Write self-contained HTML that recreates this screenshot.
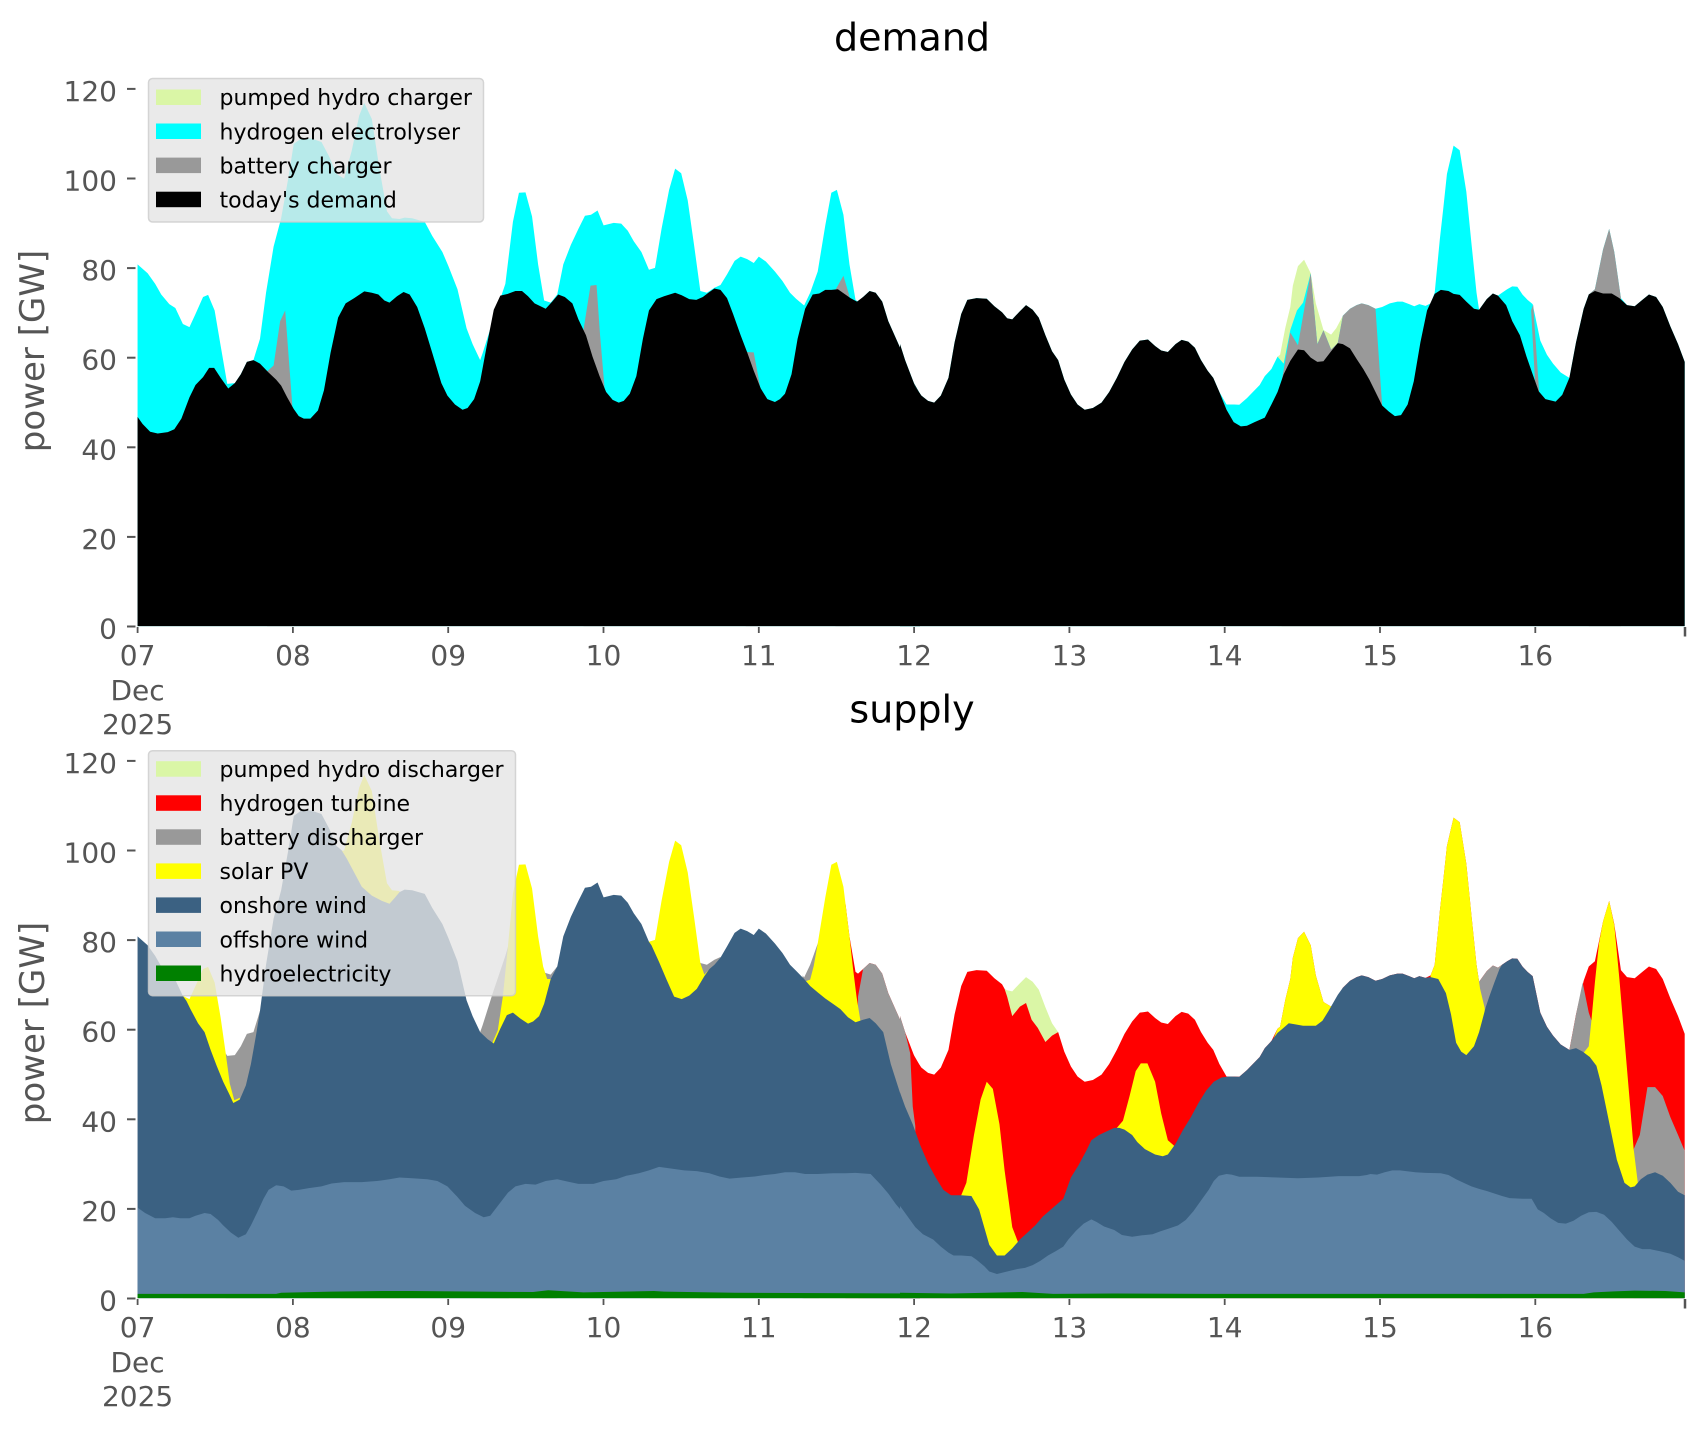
<!DOCTYPE html>
<html>
<head>
<meta charset="utf-8">
<style>
html,body{margin:0;padding:0;background:#fff;}
svg{display:block;}
text{font-family:"DejaVu Sans","Liberation Sans",sans-serif;}
</style>
</head>
<body>
<svg width="1706" height="1431" viewBox="0 0 1706 1431" xmlns="http://www.w3.org/2000/svg">
<rect width="1706" height="1431" fill="#fff"/>

<!-- ================= TOP: demand ================= -->
<g transform="translate(130,80) scale(0.50383,0.35459)">
 <polygon fill="#00ffff" points="15,1540 15,520 35,545 50,575 62,605 78,632 90,643 105,688 118,697 130,660 145,612 155,606 168,650 180,750 193,857 208,855 220,830 232,795 245,790 258,730 270,600 285,470 300,390 315,270 325,180 340,165 360,165 380,175 395,215 410,265 425,278 440,200 455,100 465,65 480,110 495,250 510,370 520,390 535,392 545,388 560,390 585,400 600,440 620,485 632,525 650,590 668,700 680,745 695,790 700,770 720,680 745,575 760,400 772,318 785,317 798,385 810,520 822,622 835,628 848,605 860,520 875,465 890,420 903,383 915,380 928,368 940,410 960,403 975,405 988,425 1000,455 1015,485 1030,535 1042,530 1055,420 1070,310 1082,250 1094,263 1107,340 1120,470 1132,595 1145,600 1160,586 1172,578 1185,548 1200,510 1212,498 1225,505 1238,516 1248,498 1262,512 1280,540 1295,567 1310,600 1322,617 1338,636 1350,600 1365,540 1380,410 1392,318 1403,310 1416,380 1428,520 1440,620 1445,625 1455,612 1468,595 1480,600 1493,625 1505,680 1530,760 1545,830 1558,860 1568,885 1568,1540"/>
 <polygon fill="#999999" points="272,822 285,805 298,680 308,650 322,915 322,1540 272,1540"/>
 <polygon fill="#999999" points="900,705 914,580 926,578 933,720 942,870 942,1540 900,1540"/>
 <polygon fill="#999999" points="1222,767 1238,768 1250,860 1250,1540 1222,1540"/>
 <polygon fill="#999999" points="1400,592 1416,552 1428,610 1428,1540 1400,1540"/>
 <polygon fill="#000000" points="15,1540 15,950 25,970 40,992 55,997 75,993 88,985 102,955 118,895 130,860 145,838 157,812 167,812 180,840 195,870 208,855 220,830 232,795 245,790 258,800 275,825 290,845 300,862 312,895 325,928 335,948 345,955 358,955 373,932 385,875 398,770 413,670 428,630 445,615 465,596 480,600 493,605 505,622 515,628 530,610 543,598 555,605 570,640 585,700 600,770 618,855 630,890 645,915 660,930 670,925 683,900 695,850 708,750 722,648 735,608 750,603 765,595 778,595 790,610 803,630 825,645 838,625 850,605 863,612 878,630 890,675 905,720 918,780 932,835 945,880 958,902 970,910 980,905 992,885 1005,835 1018,730 1030,650 1045,618 1060,610 1082,600 1095,607 1110,618 1124,620 1137,612 1148,600 1160,588 1172,592 1185,615 1197,660 1212,720 1225,768 1238,820 1252,870 1265,900 1280,908 1290,900 1300,885 1313,830 1325,730 1340,645 1355,605 1368,602 1380,592 1392,592 1405,590 1418,603 1430,615 1443,625 1455,612 1468,595 1480,600 1493,625 1505,680 1530,760 1545,830 1558,860 1568,885 1568,1540"/>
</g>
<g transform="translate(900,80) scale(0.5102,0.35459)">
 <polygon fill="#daf6a6" points="740,780 745,775 755,700 765,640 770,580 780,525 792,507 805,545 815,630 830,705 845,718 855,700 868,665 868,1540 740,1540"/>
 <polygon fill="#00ffff" points="0,1540 0,745 10,790 22,835 30,865 42,890 55,905 67,910 80,890 95,840 107,740 120,660 132,620 150,615 170,617 185,638 200,655 210,672 220,675 235,652 247,635 260,648 272,670 285,720 298,765 310,790 322,845 335,887 348,915 362,930 378,925 395,910 410,880 425,840 440,795 455,760 470,735 486,732 500,750 512,763 525,767 540,745 552,733 565,738 578,755 590,790 603,820 614,840 626,880 640,915 655,915 665,916 680,897 695,875 705,860 715,835 728,815 740,780 752,800 765,705 778,650 790,628 805,545 818,745 830,706 845,760 858,742 868,665 882,645 895,635 905,630 918,635 932,645 945,640 960,630 975,625 985,625 998,632 1008,638 1018,632 1030,637 1040,630 1048,600 1058,450 1065,360 1072,265 1085,185 1097,198 1110,315 1120,460 1130,600 1135,648 1150,618 1162,602 1172,608 1180,600 1190,590 1200,582 1210,583 1220,605 1230,620 1240,632 1255,735 1268,775 1280,800 1295,825 1312,840 1325,740 1340,645 1350,605 1362,590 1378,478 1390,420 1400,485 1413,615 1425,635 1440,638 1455,620 1468,605 1482,612 1495,640 1510,695 1525,745 1538,795 1538,1540"/>
 <polygon fill="#999999" points="748,850 765,712 780,748 793,640 805,545 818,745 830,706 845,760 858,742 868,665 882,645 895,635 905,630 918,635 932,645 945,918 945,1540 748,1540"/>
 <polygon fill="#999999" points="1237,650 1241,634 1253,885 1246,885"/>
 <polygon fill="#999999" points="1350,605 1362,590 1378,478 1390,420 1400,485 1413,615 1413,1540 1350,1540"/>
 <polygon fill="#000000" points="0,1540 0,745 10,790 22,835 30,865 42,890 55,905 67,910 80,890 95,840 107,740 120,660 132,620 150,615 170,617 185,638 200,655 210,672 220,675 235,652 247,635 260,648 272,670 285,720 298,765 310,790 322,845 335,887 348,915 362,930 378,925 395,910 410,880 425,840 440,795 455,760 470,735 486,732 500,750 512,763 525,767 540,745 552,733 565,738 578,755 590,790 603,820 614,840 626,880 640,930 654,965 668,977 680,975 695,965 715,952 728,915 740,880 752,830 765,792 780,760 792,762 805,783 818,795 830,793 845,765 858,742 868,745 882,757 895,787 908,815 920,845 932,880 945,918 958,935 970,948 982,945 995,915 1007,850 1020,740 1033,650 1048,603 1060,592 1075,595 1085,603 1097,606 1110,625 1125,645 1135,648 1150,618 1162,602 1172,608 1188,635 1200,680 1215,720 1228,780 1240,830 1252,878 1265,900 1285,907 1298,888 1312,840 1325,740 1340,645 1350,605 1362,595 1378,602 1395,602 1410,615 1425,635 1440,638 1455,620 1468,605 1482,612 1495,640 1510,695 1525,745 1538,795 1538,1540"/>
</g>

<!-- ================= BOTTOM: supply ================= -->
<g transform="translate(130,752) scale(0.50383,0.35459)">
 <polygon fill="#ff0000" points="1420,1540 1420,427 1428,520 1440,620 1445,625 1455,612 1468,595 1480,600 1493,625 1505,680 1530,760 1545,830 1558,860 1568,885 1568,1540"/>
 <polygon fill="#999999" points="190,850 193,857 208,855 220,830 232,795 245,790 258,730 258,1540 190,1540"/>
 <polygon fill="#999999" points="695,790 700,770 720,680 745,575 752,540 752,1540 695,1540"/>
 <polygon fill="#999999" points="818,610 822,622 835,628 848,605 848,1540 818,1540"/>
 <polygon fill="#999999" points="1128,580 1132,595 1145,600 1160,586 1172,578 1172,1540 1128,1540"/>
 <polygon fill="#999999" points="1335,630 1338,636 1350,600 1365,540 1368,538 1368,1540 1335,1540"/>
 <polygon fill="#999999" points="1445,690 1455,612 1468,595 1480,600 1493,625 1505,680 1530,760 1545,830 1548,850 1553,1000 1558,1055 1568,1105 1568,1540 1445,1540"/>
 <polygon fill="#ffff00" points="105,688 118,697 130,660 145,612 155,606 168,650 180,750 190,850 198,935 207,982 218,975 218,1540 105,1540"/>
 <polygon fill="#ffff00" points="418,278 425,278 440,200 455,100 465,65 480,110 495,250 510,370 520,390 535,392 535,1540 418,1540"/>
 <polygon fill="#ffff00" points="718,824 730,785 740,690 750,550 760,400 772,318 785,317 798,385 810,520 820,605 828,640 838,640 838,1540 718,1540"/>
 <polygon fill="#ffff00" points="1030,535 1042,530 1055,420 1070,310 1082,250 1094,263 1107,340 1120,470 1132,595 1140,628 1152,610 1152,1540 1030,1540"/>
 <polygon fill="#ffff00" points="1338,648 1350,642 1357,604 1365,540 1380,410 1392,318 1403,310 1416,380 1428,520 1435,610 1442,690 1450,760 1456,758 1456,1540 1338,1540"/>
 <polygon fill="#3b6182" points="15,1540 15,520 35,545 50,575 62,605 78,632 90,643 105,688 112,702 120,725 135,765 148,790 160,840 172,885 185,930 197,965 205,990 218,980 230,940 240,880 250,800 258,730 270,600 285,470 300,390 315,270 325,180 340,165 360,165 380,175 395,215 410,265 420,277 430,300 445,340 460,380 480,405 500,420 515,428 525,412 535,395 545,388 560,390 585,400 600,440 620,485 632,525 650,590 668,700 680,745 695,790 710,810 722,822 735,780 748,742 760,735 775,752 790,766 800,760 812,745 822,710 835,640 848,605 860,520 875,465 890,420 903,383 915,380 928,368 940,410 960,403 975,405 988,425 1000,455 1015,485 1030,535 1035,545 1050,592 1065,642 1080,690 1095,697 1110,687 1125,668 1140,632 1150,612 1160,600 1172,580 1185,548 1200,510 1212,498 1225,505 1238,516 1248,498 1262,512 1280,540 1295,567 1310,600 1322,617 1338,640 1350,660 1365,678 1380,695 1395,710 1410,725 1425,748 1440,762 1455,755 1468,750 1480,765 1495,790 1510,880 1528,960 1554,1050 1568,1105 1568,1540"/>
 <polygon fill="#5b81a3" points="15,1540 15,1285 30,1300 50,1315 70,1315 85,1312 100,1315 118,1315 130,1308 148,1300 160,1303 175,1320 185,1335 200,1355 215,1370 230,1360 240,1335 252,1300 265,1260 275,1235 290,1222 305,1225 320,1237 335,1235 355,1230 380,1225 400,1217 425,1213 460,1213 490,1210 515,1205 535,1200 560,1202 590,1205 610,1210 630,1225 650,1255 665,1280 685,1300 702,1312 715,1308 730,1280 750,1243 765,1225 785,1218 805,1220 825,1210 848,1205 870,1212 890,1218 920,1218 940,1210 965,1205 985,1195 1010,1188 1030,1180 1050,1170 1075,1175 1100,1180 1125,1182 1150,1188 1170,1197 1190,1203 1215,1200 1240,1197 1260,1193 1280,1190 1300,1185 1320,1185 1340,1190 1365,1190 1395,1188 1420,1188 1440,1187 1470,1190 1490,1220 1505,1245 1520,1275 1535,1300 1550,1325 1568,1350 1568,1540"/>
 <polygon fill="#008000" points="15,1540 15,1528 290,1528 300,1525 400,1522 500,1520 560,1520 800,1523 830,1518 900,1524 1040,1520 1060,1522 1200,1525 1568,1527 1568,1540"/>
</g>
<g transform="translate(900,752) scale(0.5102,0.35459)">
 <polygon fill="#daf6a6" points="205,668 210,672 220,675 235,652 247,635 260,648 272,670 285,720 298,765 310,790 310,1540 205,1540"/>
 <polygon fill="#ff0000" points="0,1540 0,745 10,790 22,835 30,865 42,890 55,905 67,910 80,890 95,840 107,740 120,660 132,620 150,615 170,617 185,638 200,655 205,668 210,690 220,745 235,718 247,708 258,755 270,778 285,818 298,800 310,790 322,845 335,887 348,915 362,930 378,925 395,910 410,880 425,840 440,795 455,760 470,735 486,732 500,750 512,763 525,767 540,745 552,733 565,738 578,755 590,790 603,820 614,840 626,880 640,915 655,915 665,916 680,897 695,875 705,860 715,835 728,815 740,780 745,775 755,700 765,640 770,580 780,525 792,507 805,545 815,630 830,705 845,718 855,700 868,665 882,645 895,635 905,630 918,635 932,645 945,640 960,630 975,625 985,625 998,632 1008,638 1018,632 1030,637 1040,630 1048,600 1058,450 1065,360 1072,265 1085,185 1097,198 1110,315 1120,460 1130,600 1135,648 1150,618 1162,602 1172,608 1180,600 1190,590 1200,582 1210,583 1220,605 1230,620 1240,632 1255,735 1268,775 1280,800 1295,825 1312,840 1325,740 1340,645 1350,605 1362,590 1378,478 1390,420 1400,485 1413,615 1425,635 1440,638 1455,620 1468,605 1482,612 1495,640 1510,695 1525,745 1538,795 1538,1540"/>
 <polygon fill="#999999" points="0,745 10,790 20,850 25,1000 30,1055 30,1540 0,1540"/>
 <polygon fill="#999999" points="1128,590 1130,600 1135,648 1150,618 1162,602 1172,608 1180,600 1180,1540 1128,1540"/>
 <polygon fill="#999999" points="1312,840 1325,740 1338,650 1350,735 1356,760 1356,1540 1312,1540"/>
 <polygon fill="#999999" points="1438,1120 1450,1080 1465,945 1480,945 1495,970 1510,1030 1525,1080 1538,1125 1538,1540 1438,1540"/>
 <polygon fill="#ffff00" points="120,1250 130,1215 145,1080 158,980 170,930 182,950 195,1050 205,1180 220,1340 232,1385 232,1540 120,1540"/>
 <polygon fill="#ffff00" points="425,1060 437,1040 450,970 462,900 472,878 485,878 500,930 512,1020 525,1095 537,1110 537,1540 425,1540"/>
 <polygon fill="#ffff00" points="733,805 740,780 745,775 755,700 765,640 770,580 780,525 792,507 805,545 815,630 830,705 845,718 852,705 852,1540 733,1540"/>
 <polygon fill="#ffff00" points="1040,630 1048,600 1058,450 1065,360 1072,265 1085,185 1097,198 1110,315 1120,460 1130,600 1137,668 1146,722 1146,1540 1040,1540"/>
 <polygon fill="#ffff00" points="1340,848 1350,830 1355,760 1362,650 1370,540 1378,478 1390,420 1400,488 1410,640 1420,810 1430,980 1438,1120 1447,1225 1447,1540 1340,1540"/>
 <polygon fill="#3b6182" points="0,1540 0,960 10,1000 25,1050 40,1110 55,1160 70,1200 85,1235 100,1250 120,1250 140,1252 155,1290 165,1340 175,1390 190,1420 205,1420 220,1400 235,1375 250,1355 265,1335 280,1310 300,1285 320,1260 335,1200 350,1165 365,1125 375,1095 390,1080 405,1070 420,1060 430,1060 440,1065 455,1080 465,1100 480,1120 500,1135 515,1140 525,1135 540,1105 555,1065 570,1030 585,990 600,955 615,930 630,918 645,915 665,916 680,897 695,875 705,860 715,835 728,815 740,792 750,780 762,765 775,768 790,772 815,772 828,758 840,730 850,705 858,685 868,665 882,645 895,635 905,630 918,635 932,645 945,640 960,630 975,625 985,625 998,632 1008,638 1018,632 1030,637 1040,635 1055,640 1070,680 1080,740 1090,820 1100,845 1110,855 1125,830 1135,790 1148,720 1155,690 1165,650 1175,612 1180,600 1190,590 1200,582 1210,583 1220,605 1230,620 1240,632 1255,735 1268,775 1280,800 1295,825 1312,840 1325,835 1338,845 1352,860 1365,885 1375,940 1385,1010 1395,1080 1405,1150 1420,1215 1432,1228 1440,1225 1452,1205 1465,1192 1480,1185 1495,1195 1510,1215 1525,1240 1538,1250 1538,1540"/>
 <polygon fill="#5b81a3" points="0,1540 0,1280 15,1310 30,1340 45,1360 65,1375 80,1395 95,1412 105,1420 120,1420 140,1422 150,1432 165,1450 175,1465 190,1472 210,1465 230,1458 245,1455 260,1447 275,1435 290,1420 305,1408 320,1395 330,1375 345,1350 360,1330 375,1318 385,1325 400,1338 420,1348 435,1362 455,1367 475,1363 495,1360 510,1352 525,1345 545,1335 560,1320 575,1295 590,1265 605,1235 615,1210 625,1195 640,1190 650,1192 665,1198 700,1198 740,1200 780,1202 820,1200 860,1196 900,1196 915,1193 922,1190 935,1192 950,1185 965,1180 980,1180 1010,1185 1030,1187 1060,1188 1075,1193 1090,1205 1105,1215 1120,1225 1135,1232 1150,1238 1165,1245 1180,1252 1195,1258 1220,1260 1238,1260 1250,1290 1262,1300 1275,1315 1290,1328 1305,1330 1320,1322 1335,1308 1350,1298 1365,1297 1380,1305 1395,1325 1410,1350 1425,1375 1440,1395 1455,1402 1470,1402 1490,1408 1510,1415 1525,1425 1538,1435 1538,1540"/>
 <polygon fill="#008000" points="0,1540 0,1525 100,1527 240,1523 300,1528 420,1527 600,1528 1340,1528 1360,1524 1400,1521 1440,1519 1500,1520 1538,1524 1538,1540"/>
</g>

<!-- ================= Axes decorations ================= -->
<g stroke="#555555" stroke-width="2">
 <line x1="127" y1="626.5" x2="135.5" y2="626.5"/>
 <line x1="127" y1="536.9" x2="135.5" y2="536.9"/>
 <line x1="127" y1="447.3" x2="135.5" y2="447.3"/>
 <line x1="127" y1="357.7" x2="135.5" y2="357.7"/>
 <line x1="127" y1="268.1" x2="135.5" y2="268.1"/>
 <line x1="127" y1="178.5" x2="135.5" y2="178.5"/>
 <line x1="127" y1="88.9" x2="135.5" y2="88.9"/>
 <line x1="127" y1="1298.5" x2="135.5" y2="1298.5"/>
 <line x1="127" y1="1208.9" x2="135.5" y2="1208.9"/>
 <line x1="127" y1="1119.3" x2="135.5" y2="1119.3"/>
 <line x1="127" y1="1029.7" x2="135.5" y2="1029.7"/>
 <line x1="127" y1="940.1" x2="135.5" y2="940.1"/>
 <line x1="127" y1="850.5" x2="135.5" y2="850.5"/>
 <line x1="127" y1="760.9" x2="135.5" y2="760.9"/>
</g>
<g stroke="#555555" stroke-width="1.8">
 <line x1="137.6" y1="627" x2="137.6" y2="633"/>
 <line x1="292.9" y1="627" x2="292.9" y2="633"/>
 <line x1="448.2" y1="627" x2="448.2" y2="633"/>
 <line x1="603.5" y1="627" x2="603.5" y2="633"/>
 <line x1="758.8" y1="627" x2="758.8" y2="633"/>
 <line x1="914.1" y1="627" x2="914.1" y2="633"/>
 <line x1="1069.4" y1="627" x2="1069.4" y2="633"/>
 <line x1="1224.7" y1="627" x2="1224.7" y2="633"/>
 <line x1="1380" y1="627" x2="1380" y2="633"/>
 <line x1="1535.3" y1="627" x2="1535.3" y2="633"/>
 <line x1="1685" y1="627" x2="1685" y2="636.5" stroke-width="2.5"/>
 <line x1="137.6" y1="1299" x2="137.6" y2="1305"/>
 <line x1="292.9" y1="1299" x2="292.9" y2="1305"/>
 <line x1="448.2" y1="1299" x2="448.2" y2="1305"/>
 <line x1="603.5" y1="1299" x2="603.5" y2="1305"/>
 <line x1="758.8" y1="1299" x2="758.8" y2="1305"/>
 <line x1="914.1" y1="1299" x2="914.1" y2="1305"/>
 <line x1="1069.4" y1="1299" x2="1069.4" y2="1305"/>
 <line x1="1224.7" y1="1299" x2="1224.7" y2="1305"/>
 <line x1="1380" y1="1299" x2="1380" y2="1305"/>
 <line x1="1535.3" y1="1299" x2="1535.3" y2="1305"/>
 <line x1="1685" y1="1299" x2="1685" y2="1308.5" stroke-width="2.5"/>
</g>

<g font-size="28" fill="#555555" text-anchor="end">
 <text x="117" y="638.5">0</text>
 <text x="117" y="548.9">20</text>
 <text x="117" y="459.3">40</text>
 <text x="117" y="369.7">60</text>
 <text x="117" y="280.1">80</text>
 <text x="117" y="190.5">100</text>
 <text x="117" y="100.9">120</text>
 <text x="117" y="1310.5">0</text>
 <text x="117" y="1220.9">20</text>
 <text x="117" y="1131.3">40</text>
 <text x="117" y="1041.7">60</text>
 <text x="117" y="952.1">80</text>
 <text x="117" y="862.5">100</text>
 <text x="117" y="772.9">120</text>
</g>

<g font-size="28" fill="#555555" text-anchor="middle">
 <text x="137.6" y="665">07</text>
 <text x="137.6" y="700">Dec</text>
 <text x="137.6" y="734">2025</text>
 <text x="292.9" y="665">08</text>
 <text x="448.2" y="665">09</text>
 <text x="603.5" y="665">10</text>
 <text x="758.8" y="665">11</text>
 <text x="914.1" y="665">12</text>
 <text x="1069.4" y="665">13</text>
 <text x="1224.7" y="665">14</text>
 <text x="1380" y="665">15</text>
 <text x="1535.3" y="665">16</text>
 <text x="137.6" y="1337">07</text>
 <text x="137.6" y="1372">Dec</text>
 <text x="137.6" y="1406">2025</text>
 <text x="292.9" y="1337">08</text>
 <text x="448.2" y="1337">09</text>
 <text x="603.5" y="1337">10</text>
 <text x="758.8" y="1337">11</text>
 <text x="914.1" y="1337">12</text>
 <text x="1069.4" y="1337">13</text>
 <text x="1224.7" y="1337">14</text>
 <text x="1380" y="1337">15</text>
 <text x="1535.3" y="1337">16</text>
</g>

<text transform="translate(44,351) rotate(-90)" text-anchor="middle" font-size="34" fill="#555555">power [GW]</text>
<text transform="translate(44,1023) rotate(-90)" text-anchor="middle" font-size="34" fill="#555555">power [GW]</text>

<text x="912" y="50.5" text-anchor="middle" font-size="38" fill="#000">demand</text>
<text x="912" y="722.5" text-anchor="middle" font-size="38" fill="#000">supply</text>

<!-- ================= Legends ================= -->
<rect x="148.5" y="78.5" width="335" height="143.5" rx="4" ry="4" fill="rgba(229,229,229,0.8)" stroke="rgba(204,204,204,0.8)" stroke-width="1.5"/>
<rect x="156" y="89.5" width="45" height="15.5" fill="#daf6a6"/>
<rect x="156" y="123.5" width="45" height="15.5" fill="#00ffff"/>
<rect x="156" y="157.6" width="45" height="15.5" fill="#999999"/>
<rect x="156" y="191.7" width="45" height="15.5" fill="#000000"/>
<g font-size="22" fill="#000">
 <text x="219.5" y="105.2">pumped hydro charger</text>
 <text x="219.5" y="139.3">hydrogen electrolyser</text>
 <text x="219.5" y="173.4">battery charger</text>
 <text x="219.5" y="207.5">today's demand</text>
</g>

<rect x="148.5" y="750.7" width="367" height="245" rx="4" ry="4" fill="rgba(229,229,229,0.8)" stroke="rgba(204,204,204,0.8)" stroke-width="1.5"/>
<rect x="156" y="761.2" width="45" height="15.5" fill="#daf6a6"/>
<rect x="156" y="795.3" width="45" height="15.5" fill="#ff0000"/>
<rect x="156" y="829.3" width="45" height="15.5" fill="#999999"/>
<rect x="156" y="863.4" width="45" height="15.5" fill="#ffff00"/>
<rect x="156" y="897.4" width="45" height="15.5" fill="#3b6182"/>
<rect x="156" y="931.5" width="45" height="15.5" fill="#5b81a3"/>
<rect x="156" y="965.5" width="45" height="15.5" fill="#008000"/>
<g font-size="22" fill="#000">
 <text x="219.5" y="777">pumped hydro discharger</text>
 <text x="219.5" y="811">hydrogen turbine</text>
 <text x="219.5" y="845.1">battery discharger</text>
 <text x="219.5" y="879.2">solar PV</text>
 <text x="219.5" y="913.2">onshore wind</text>
 <text x="219.5" y="947.3">offshore wind</text>
 <text x="219.5" y="981.3">hydroelectricity</text>
</g>
</svg>
</body>
</html>
